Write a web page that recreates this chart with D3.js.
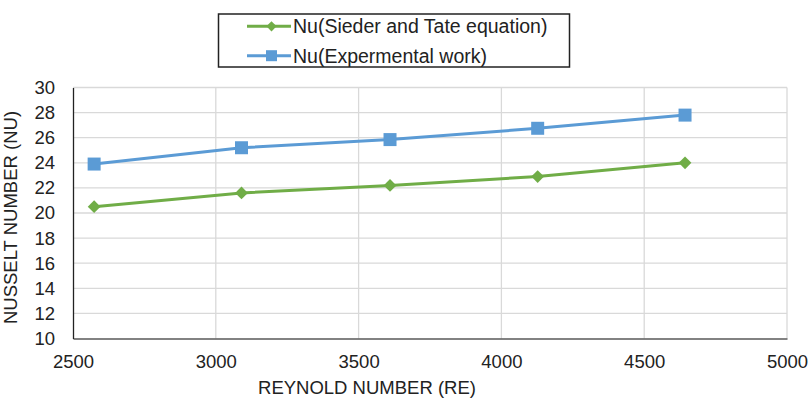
<!DOCTYPE html>
<html>
<head>
<meta charset="utf-8">
<script src="https://cdn.jsdelivr.net/npm/d3@7"></script>
<style>
  body { margin: 0; background: #fff; }
  text { font-family: "Liberation Sans", Arial, sans-serif; fill: #222; }
</style>
</head>
<body>
<div id="chart"></div>
<script>
// data
var reynolds = [2574, 3090, 3610, 4127, 4643];
var nuSieder = [20.5, 21.6, 22.2, 22.9, 24.0];
var nuExperimental = [23.9, 25.2, 25.85, 26.75, 27.8];
var xTicks = [2500, 3000, 3500, 4000, 4500, 5000];
var yTicks = [10, 12, 14, 16, 18, 20, 22, 24, 26, 28, 30];
var seriesNames = ['Nu(Sieder and Tate equation)', 'Nu(Expermental work)'];

var svgWidth = 809, svgHeight = 398;
var margin = { top: 87.5, right: 22, bottom: 59.5, left: 73 };
var width = svgWidth - margin.left - margin.right;
var height = svgHeight - margin.top - margin.bottom;

var svg = d3.select('#chart').append('svg')
  .attr('width', svgWidth)
  .attr('height', svgHeight);
var g = svg.append('g')
  .attr('transform', 'translate(' + margin.left + ',' + margin.top + ')');

var x = d3.scaleLinear().domain([2500, 5000]).range([0, width]);
var y = d3.scaleLinear().domain([10, 30]).range([height, 0]);

// grid
g.append('g').selectAll('line')
  .data(yTicks.slice(1))
  .enter().append('line')
  .attr('x1', 0).attr('x2', width)
  .attr('y1', d => y(d)).attr('y2', d => y(d))
  .attr('stroke', '#d9d9d9').attr('stroke-width', 1.3);
g.append('g').selectAll('line')
  .data(xTicks.slice(1))
  .enter().append('line')
  .attr('x1', d => x(d)).attr('x2', d => x(d))
  .attr('y1', 0).attr('y2', height)
  .attr('stroke', '#d9d9d9').attr('stroke-width', 1.3);

// axes
var xAxis = g.append('g')
  .attr('transform', 'translate(0,' + height + ')')
  .call(d3.axisBottom(x).tickValues(xTicks).tickSize(0).tickFormat(d3.format('d')));
xAxis.select('.domain').attr('stroke', '#595959').attr('stroke-width', 1.3);
xAxis.selectAll('text')
  .attr('y', 29).attr('dy', 0)
  .attr('font-size', 18.5).attr('fill', '#222');

var yAxis = g.append('g')
  .call(d3.axisLeft(y).tickValues(yTicks).tickSize(0).tickPadding(18));
yAxis.select('.domain').attr('stroke', '#222').attr('stroke-width', 1.3);
yAxis.selectAll('text').attr('font-size', 18.5).attr('fill', '#222');

// axis titles
svg.append('text')
  .attr('x', 367).attr('y', 394)
  .attr('text-anchor', 'middle')
  .attr('font-size', 18.5)
  .text('REYNOLD NUMBER (RE)');
svg.append('text')
  .attr('transform', 'translate(16.5,217.5) rotate(-90)')
  .attr('text-anchor', 'middle')
  .attr('font-size', 18.5)
  .text('NUSSELT NUMBER (NU)');

var colors = ['#70ad47', '#5b9bd5'];
var series = [nuSieder, nuExperimental];

var line = d3.line()
  .x(d => x(d.x))
  .y(d => y(d.y));

series.forEach(function (vals, i) {
  var pts = reynolds.map((r, j) => ({ x: r, y: vals[j] }));
  g.append('path')
    .datum(pts)
    .attr('fill', 'none')
    .attr('stroke', colors[i])
    .attr('stroke-width', 3)
    .attr('d', line);
  g.selectAll('.m' + i)
    .data(pts)
    .enter().append('path')
    .attr('class', 'm' + i)
    .attr('transform', d => 'translate(' + x(d.x) + ',' + y(d.y) + ')' + (i === 0 ? ' rotate(45)' : ''))
    .attr('d', i === 0 ? 'M-4.5,-4.5H4.5V4.5H-4.5Z' : 'M-6.5,-6.5H6.5V6.5H-6.5Z')
    .attr('fill', colors[i]);
});

// legend
var lg = svg.append('g');
lg.append('rect')
  .attr('x', 218.5).attr('y', 14)
  .attr('width', 351).attr('height', 53)
  .attr('fill', '#fff').attr('stroke', '#222').attr('stroke-width', 1.5);
seriesNames.forEach(function (name, i) {
  var ly = 26.3 + i * 29.4;
  lg.append('line')
    .attr('x1', 247).attr('x2', 291)
    .attr('y1', ly).attr('y2', ly)
    .attr('stroke', colors[i]).attr('stroke-width', 3);
  lg.append('path')
    .attr('transform', 'translate(271.5,' + ly + ')' + (i === 0 ? ' rotate(45)' : ''))
    .attr('d', i === 0 ? 'M-3.6,-3.6H3.6V3.6H-3.6Z' : 'M-5.5,-5.5H5.5V5.5H-5.5Z')
    .attr('fill', colors[i]);
  lg.append('text')
    .attr('x', 293).attr('y', ly)
    .attr('dy', '0.35em')
    .attr('font-size', 19.5)
    .text(name);
});
</script>
</body>
</html>
